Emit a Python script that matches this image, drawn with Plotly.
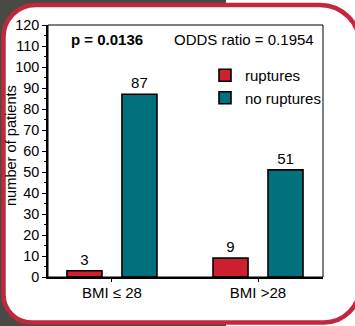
import plotly.graph_objects as go

categories = ["BMI ≤ 28", "BMI >28"]
ruptures = [3, 9]
no_ruptures = [87, 51]
y_ticks = list(range(0, 121, 10))

W, H = 355, 326
L, R, T, B = 48, 32, 25, 49
PW, PH = W - L - R, H - T - B

def px(x):
    return (x - L) / PW

def py(y):
    return (H - B - y) / PH

FONT = "Liberation Sans, Arial, sans-serif"
RED = "#cf2030"
TEAL = "#00717d"
FRAME = "#c1283d"
GRAY = "#4a4a45"

fig = go.Figure()
fig.add_trace(go.Bar(
    x=categories, y=ruptures, name="ruptures",
    marker=dict(color=RED, line=dict(color="black", width=1.6)),
    text=[str(v) for v in ruptures], textposition="outside",
    textfont=dict(size=15, color="black", family=FONT), cliponaxis=False,
))
fig.add_trace(go.Bar(
    x=categories, y=no_ruptures, name="no ruptures",
    marker=dict(color=TEAL, line=dict(color="black", width=1.6)),
    text=[str(v) for v in no_ruptures], textposition="outside",
    textfont=dict(size=15, color="black", family=FONT), cliponaxis=False,
))

K = 0.5523
def frame_path(x0, y0, x1, y1, rtl, rtr, rbr, rbl):
    def P(x, y):
        return f"{px(x):.5f},{py(y):.5f}"
    s = f"M {P(x0 + rtl, y0)} L {P(x1 - rtr, y0)} "
    s += f"C {P(x1 - rtr + K*rtr, y0)} {P(x1, y0 + rtr - K*rtr)} {P(x1, y0 + rtr)} "
    s += f"L {P(x1, y1 - rbr)} "
    s += f"C {P(x1, y1 - rbr + K*rbr)} {P(x1 - rbr + K*rbr, y1)} {P(x1 - rbr, y1)} "
    s += f"L {P(x0 + rbl, y1)} "
    s += f"C {P(x0 + rbl - K*rbl, y1)} {P(x0, y1 - rbl + K*rbl)} {P(x0, y1 - rbl)} "
    s += f"L {P(x0, y0 + rtl)} "
    s += f"C {P(x0, y0 + rtl - K*rtl)} {P(x0 + rtl - K*rtl, y0)} {P(x0 + rtl, y0)} Z"
    return s

shapes = [
    dict(type="rect", xref="paper", yref="paper", x0=px(0), x1=px(226), y0=py(0), y1=py(H),
         fillcolor=GRAY, line=dict(width=0), layer="below"),
    dict(type="path", xref="paper", yref="paper",
         path=frame_path(3.5, 5, 360, 322.5, 32, 40, 36, 28),
         fillcolor="white", line=dict(color=FRAME, width=4.5), layer="below"),
    dict(type="rect", xref="paper", yref="paper", x0=0, x1=1, y0=0, y1=1,
         line=dict(color="black", width=1), layer="above"),
]

annotations = [
    dict(text="<b>p = 0.0136</b>", xref="paper", yref="paper", x=px(69), y=py(39),
         xanchor="left", yanchor="middle", showarrow=False,
         font=dict(size=15, color="black", family=FONT)),
    dict(text="ODDS ratio = 0.1954", xref="paper", yref="paper", x=px(172), y=py(39),
         xanchor="left", yanchor="middle", showarrow=False,
         font=dict(size=15, color="black", family=FONT)),
    dict(text="number of patients", xref="paper", yref="paper", x=px(11), y=py(146),
         xanchor="center", yanchor="middle", textangle=-90, showarrow=False,
         font=dict(size=14.6, color="black", family=FONT)),
]

fig.update_layout(
    width=W, height=H,
    margin=dict(l=L, r=R, t=T, b=B, pad=0),
    paper_bgcolor="white", plot_bgcolor="rgba(0,0,0,0)",
    font=dict(family=FONT, color="black"),
    barmode="group", bargap=0.247, bargroupgap=0.363,
    showlegend=True,
    legend=dict(x=px(205), y=py(59), xanchor="left", yanchor="top",
                bgcolor="rgba(0,0,0,0)", font=dict(size=15, color="black", family=FONT),
                traceorder="normal", itemwidth=30),
    shapes=shapes, annotations=annotations,
    xaxis=dict(range=[-0.438, 1.445], showline=True, linecolor="black", linewidth=1.5,
               ticks="outside", ticklen=3, tickcolor="black", tickwidth=1.2,
               ticklabelstandoff=-2,
               tickfont=dict(size=15, family=FONT, color="black"),
               showgrid=False, zeroline=False, fixedrange=True),
    yaxis=dict(range=[0, 120], tickvals=y_ticks, showline=True, linecolor="black", linewidth=1.8,
               ticks="outside", ticklen=4, tickcolor="black", tickwidth=1.2,
               minor=dict(dtick=5, ticks="outside", ticklen=2, tickcolor="black", tickwidth=1),
               tickfont=dict(size=14.4, family=FONT, color="black"),
               showgrid=False, zeroline=False, fixedrange=True, automargin=False),
)

fig.write_html("out.html", config={"displayModeBar": False},
               post_script="document.body.style.margin='0';document.body.style.overflow='hidden';")
